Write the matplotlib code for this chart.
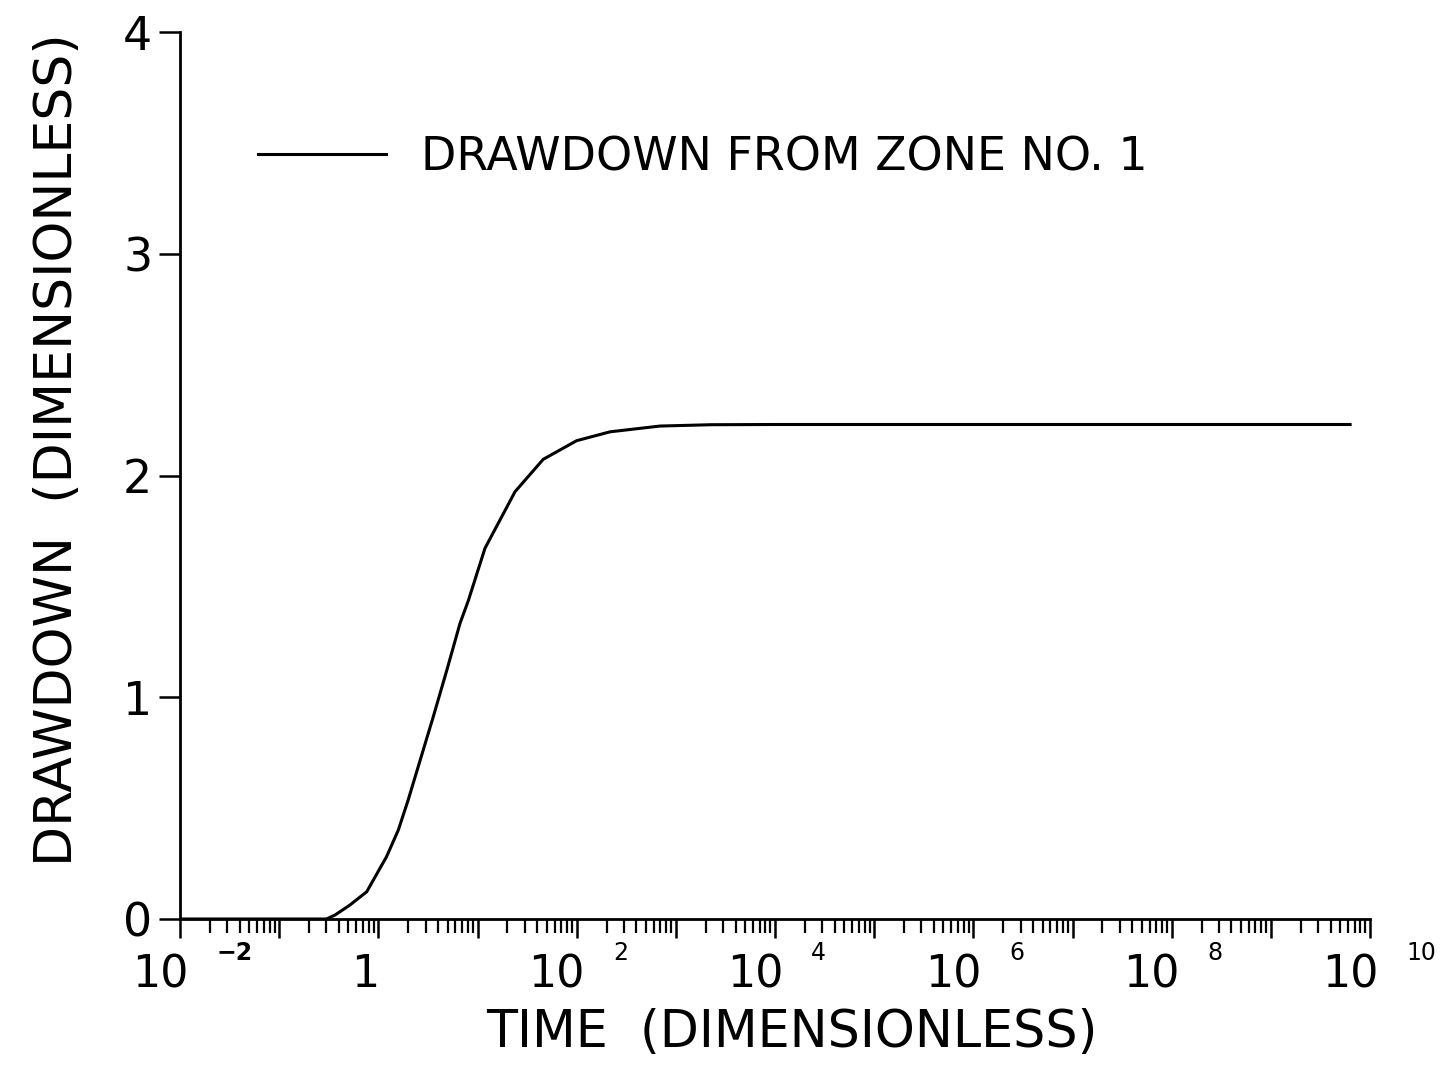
import numpy as np
import matplotlib
matplotlib.use('Agg')
import matplotlib.pyplot as plt
import matplotlib.transforms as mtransforms

# values
time = [0.01, 0.3, 0.366, 0.517, 0.764, 1.21, 1.59, 2.0, 3.58, 4.89, 6.66, 8.07, 11.9,
        23.9, 46, 100, 217, 692, 2270, 1e4, 6.3e9]
drawdown = [0, 0, 0.018, 0.063, 0.123, 0.281, 0.401, 0.537, 0.912, 1.12, 1.333, 1.435, 1.672,
            1.927, 2.073, 2.157, 2.197, 2.223, 2.229, 2.23, 2.23]

decades = [-2, 0, 2, 4, 6, 8, 10]
yticks = [0, 1, 2, 3, 4]

plt.rcParams['font.family'] = 'DejaVu Sans'

fig = plt.figure(figsize=(14.48, 10.7), dpi=100)
ax = fig.add_axes([180 / 1448, 1 - 919 / 1070, 1190 / 1448, 887 / 1070])

ax.plot(time, drawdown, color='black', linewidth=2.2, label='DRAWDOWN FROM ZONE NO. 1')

ax.set_xscale('log')
ax.set_xlim(1e-2, 1e10)
ax.set_ylim(0, 4)

for s in ['top', 'right']:
    ax.spines[s].set_visible(False)
for s in ['left', 'bottom']:
    ax.spines[s].set_linewidth(2)

ax.set_xticks([10.0 ** d for d in range(-2, 11)])
ax.xaxis.set_minor_locator(matplotlib.ticker.LogLocator(base=10, subs=np.arange(2, 10), numticks=100))
ax.xaxis.set_minor_formatter(matplotlib.ticker.NullFormatter())
ax.set_xticklabels([])
ax.tick_params(axis='x', which='major', direction='out', length=13.5, width=1.8)
ax.tick_params(axis='x', which='minor', direction='out', length=10, width=1.6)

ax.set_yticks(yticks)
ax.set_yticklabels([str(v) for v in yticks])
ax.tick_params(axis='y', direction='out', length=15, width=1.8, pad=5, labelsize=33)

# x tick labels drawn as "10" plus a detached exponent
blend = mtransforms.blended_transform_factory(ax.transData, ax.transAxes)
for d in decades:
    x = 10.0 ** d
    if d == 0:
        t = mtransforms.offset_copy(blend, fig=fig, x=1, y=-49, units='points')
        ax.text(x, 0, '1', transform=t, ha='right', va='baseline', fontsize=32)
        continue
    t = mtransforms.offset_copy(blend, fig=fig, x=6, y=-49, units='points')
    ax.text(x, 0, '10', transform=t, ha='right', va='baseline', fontsize=32)
    t2 = mtransforms.offset_copy(blend, fig=fig, x=26, y=-29.5, units='points')
    lab = '\u22122' if d < 0 else str(d)
    ax.text(x, 0, lab, transform=t2, ha='left', va='baseline', fontsize=17,
            fontweight='bold' if d < 0 else 'normal')

fig.text(792 / 1448, 1 - 1047 / 1070, 'TIME  (DIMENSIONLESS)', ha='center', va='baseline', fontsize=36.5)
fig.text(58 / 1448, 1 - 450 / 1070, 'DRAWDOWN  (DIMENSIONLESS)', ha='center', va='center',
         rotation=90, fontsize=37.5)

ax.legend(loc='center left', bbox_to_anchor=(258 / 1448, 1 - 158 / 1070),
          bbox_transform=fig.transFigure, frameon=False, fontsize=33,
          handlelength=2.8, handletextpad=0.76, borderpad=0, borderaxespad=0)

fig.savefig('out.png', dpi=100, facecolor='white')
